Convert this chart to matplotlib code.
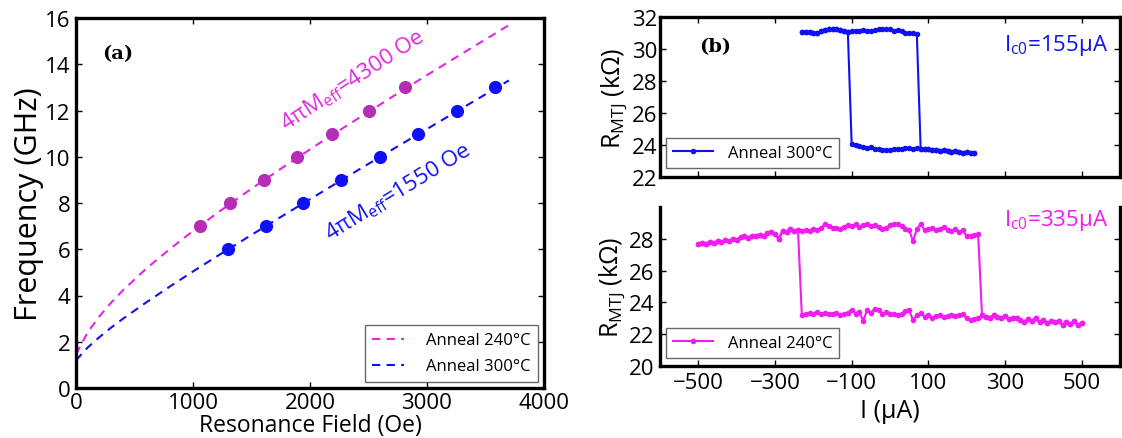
import numpy as np
import matplotlib
matplotlib.use("Agg")
import matplotlib.pyplot as plt

plt.rcParams['font.family'] = ['Open Sans', 'DejaVu Sans']
plt.rcParams['mathtext.fontset'] = 'custom'
plt.rcParams['mathtext.rm'] = 'Open Sans'
plt.rcParams['mathtext.it'] = 'Open Sans:italic'

# ---------------- Panel (a) data ----------------
H_240 = [1057, 1320, 1604, 1893, 2191, 2502, 2809]
f_240 = [7, 8, 9, 10, 11, 12, 13]
H_300 = [1302, 1622, 1939, 2265, 2595, 2927, 3254, 3580]
f_300 = [6, 7, 8, 9, 10, 11, 12, 13]

# fit curves
Hfit = [0, 100, 200, 300, 400, 600, 800, 1000, 1200, 1500, 1800, 2100, 2400, 2700, 3000, 3300, 3700]
ffit_240 = [1.46, 2.41, 3.10, 3.69, 4.22, 5.16, 6.00, 6.79, 7.54, 8.62, 9.65, 10.65, 11.62, 12.58, 13.53, 14.46, 15.69]
ffit_300 = [1.20, 1.75, 2.20, 2.61, 2.99, 3.70, 4.38, 5.04, 5.68, 6.62, 7.55, 8.47, 9.39, 10.30, 11.20, 12.10, 13.30]

# ---------------- Panel (b) top: anneal 300C ----------------
I300_up = np.arange(-230, 71, 10)
R300_up = [31.08, 31.08, 31.06, 30.98, 31.0, 31.1, 31.2, 31.25, 31.22, 31.25,
           31.18, 31.12, 31.08, 31.12, 31.14, 31.13, 31.16, 31.15, 31.14, 31.2,
           31.25, 31.24, 31.26, 31.22, 31.15, 31.2, 31.12, 31.02, 31.0, 30.98, 30.94]
I300_lo = np.arange(-100, 221, 10)
R300_lo = [24.05, 23.98, 23.95, 23.9, 23.82, 23.85, 23.75, 23.72, 23.68, 23.7,
           23.66, 23.72, 23.74, 23.78, 23.8, 23.82, 23.78, 23.8, 23.76, 23.72,
           23.75, 23.7, 23.68, 23.62, 23.66, 23.6, 23.58, 23.62, 23.55, 23.5,
           23.55, 23.48, 23.5]

# ---------------- Panel (b) bottom: anneal 240C ----------------
I240_up = np.arange(-500, 231, 10)
R240_up = [27.65, 27.75, 27.7, 27.8, 27.75, 27.85, 27.8, 27.9, 27.85, 28.0,
           27.95, 28.1, 28.15, 28.05, 28.2, 28.15, 28.25, 28.2, 28.35, 28.4,
           28.3, 28.0, 28.5, 28.45, 28.6, 28.5, 28.55, 28.5, 28.55, 28.5,
           28.6, 28.55, 28.65, 28.95, 28.8, 28.65, 28.7, 28.6, 28.75, 28.85,
           28.8, 28.9, 28.75, 28.85, 28.95, 28.8, 28.85, 28.75, 28.6, 28.7,
           28.85, 28.9, 28.95, 28.8, 28.6, 28.55, 27.85, 28.6, 28.95, 28.55,
           28.6, 28.65, 28.55, 28.6, 28.75, 28.55, 28.5, 28.6, 28.45, 28.55,
           28.15, 28.2, 28.25, 28.3]
I240_lo = np.arange(-230, 501, 10)
R240_lo = [23.2, 23.25, 23.35, 23.3, 23.4, 23.3, 23.35, 23.25, 23.3, 23.35,
           23.2, 23.3, 23.35, 23.55, 23.3, 23.4, 22.85, 23.5, 23.35, 23.6,
           23.5, 23.3, 23.4, 23.3, 23.25, 23.2, 23.3, 23.45, 23.5, 22.9,
           23.2, 23.35, 23.1, 23.2, 23.0, 23.15, 23.2, 23.1, 23.15, 23.2,
           23.15, 23.2, 23.25, 23.0, 22.9, 22.95, 23.0, 23.2, 23.1, 23.05,
           23.2, 23.1, 23.0, 23.15, 22.95, 23.05, 23.0, 22.9, 22.75, 22.95,
           22.85, 23.0, 22.75, 22.9, 22.7, 22.85, 22.75, 22.8, 22.6, 22.75,
           22.65, 22.8, 22.6, 22.7]

MAG_A = '#e028e0'
MAG_PT = '#b52db5'
BLUE = '#1010f5'
MAG_B = '#f01cf0'

W, Hh = 1122, 439
fig = plt.figure(figsize=(W / 100, Hh / 100), dpi=100)

def rect(l, t, r, b):
    return [l / W, 1 - b / Hh, (r - l) / W, (b - t) / Hh]

SPW = 2.4

def style(ax, labelsize, pad=2):
    for s in ax.spines.values():
        s.set_linewidth(SPW)
    ax.tick_params(direction='in', length=4, width=1, labelsize=labelsize,
                   top=True, right=True, pad=pad)

def loop_path(I_up, R_up, I_lo, R_lo):
    """forward sweep on the upper branch, switch, then back along the lower branch"""
    xs = list(I_up) + [i for i in I_lo if i > I_up[-1]] + list(I_lo[::-1]) + \
        [i for i in I_up[::-1] if i < I_lo[0]]
    ys = list(R_up) + [r for i, r in zip(I_lo, R_lo) if i > I_up[-1]] + list(R_lo[::-1]) + \
        [r for i, r in zip(I_up[::-1], R_up[::-1]) if i < I_lo[0]]
    return xs, ys

def framed(lg):
    lg.get_frame().set_edgecolor('#444444')
    lg.get_frame().set_linewidth(1.0)

# ---------------- Panel (a) ----------------
axa = fig.add_axes(rect(76, 19, 544, 389))
axa.plot(Hfit, ffit_240, '--', color=MAG_A, lw=1.5, dashes=(4, 3), label='Anneal 240°C')
axa.plot(Hfit, ffit_300, '--', color=BLUE, lw=1.5, dashes=(4, 3), label='Anneal 300°C')
axa.plot(H_240, f_240, 'o', color=MAG_PT, ms=9.5, mec='none')
axa.plot(H_300, f_300, 'o', color=BLUE, ms=9.5, mec='none')
axa.set_xlim(0, 4000)
axa.set_ylim(0, 16)
axa.set_xticks([0, 1000, 2000, 3000, 4000])
axa.set_yticks(range(0, 17, 2))
style(axa, 16)
axa.tick_params(axis='x', pad=3)
axa.tick_params(axis='y', pad=4)
axa.set_xlabel('Resonance Field (Oe)', fontsize=16.5, labelpad=0)
axa.set_ylabel('Frequency (GHz)', fontsize=22, labelpad=1)
leg = axa.legend(loc='lower right', fontsize=12, frameon=True, fancybox=False,
                 handlelength=1.9, borderpad=0.45, labelspacing=0.6, handletextpad=1.3,
                 bbox_to_anchor=(0.99, 0.012), borderaxespad=0.1)
framed(leg)
axa.text(0.055, 0.905, '(a)', transform=axa.transAxes, fontsize=14, fontweight='bold',
         family='DejaVu Serif', va='center')
axa.text(2365, 13.35, '4πM$_{\\mathrm{eff}}$=4300 Oe', color=MAG_A, fontsize=16,
         rotation=33, ha='center', va='center', rotation_mode='anchor')
axa.text(2756, 8.5, '4πM$_{\\mathrm{eff}}$=1550 Oe', color=BLUE, fontsize=16,
         rotation=31.5, ha='center', va='center', rotation_mode='anchor')

# ---------------- Panel (b) top ----------------
axt = fig.add_axes(rect(660, 18, 1120, 178))
xs, ys = loop_path(I300_up, R300_up, I300_lo, R300_lo)
axt.plot(xs, ys, '-o', color=BLUE, lw=1.5, ms=4, mec='none', label='Anneal 300°C')
axt.set_xlim(-600, 600)
axt.set_ylim(22, 32)
axt.set_yticks(range(22, 33, 2))
axt.set_xticks([-500, -300, -100, 100, 300, 500])
style(axt, 16)
axt.tick_params(labelbottom=False)
axt.set_ylabel('R$_{\\mathrm{MTJ}}$ (kΩ)', fontsize=18, labelpad=1)
lg = axt.legend(loc='lower left', fontsize=12, frameon=True, fancybox=False,
                handlelength=2.4, borderpad=0.42, handletextpad=0.9,
                bbox_to_anchor=(0.012, 0.055), borderaxespad=0.0)
framed(lg)
axt.text(0.085, 0.82, '(b)', transform=axt.transAxes, fontsize=14, fontweight='bold',
         family='DejaVu Serif', va='center')
axt.text(0.975, 0.83, 'I$_{\\mathrm{c0}}$=155μA', transform=axt.transAxes, color=BLUE,
         fontsize=16, ha='right', va='center')

# ---------------- Panel (b) bottom ----------------
axb = fig.add_axes(rect(660, 208, 1120, 367))
xs, ys = loop_path(I240_up, R240_up, I240_lo, R240_lo)
axb.plot(xs, ys, '-o', color=MAG_B, lw=1.5, ms=4, mec='none', label='Anneal 240°C')
axb.set_xlim(-600, 600)
axb.set_ylim(20, 30)
axb.set_yticks(range(20, 29, 2))
axb.set_xticks([-500, -300, -100, 100, 300, 500])
style(axb, 16, pad=4)
axb.spines['top'].set_visible(False)
axb.tick_params(top=False)
axb.set_xlabel('I (μA)', fontsize=18, labelpad=4)
axb.set_ylabel('R$_{\\mathrm{MTJ}}$ (kΩ)', fontsize=18, labelpad=1)
lg = axb.legend(loc='lower left', fontsize=12, frameon=True, fancybox=False,
                handlelength=2.4, borderpad=0.42, handletextpad=0.9,
                bbox_to_anchor=(0.012, 0.05), borderaxespad=0.0)
framed(lg)
axb.text(0.975, 0.92, 'I$_{\\mathrm{c0}}$=335μA', transform=axb.transAxes, color=MAG_B,
         fontsize=16, ha='right', va='center')

fig.savefig('out.png', dpi=100)
